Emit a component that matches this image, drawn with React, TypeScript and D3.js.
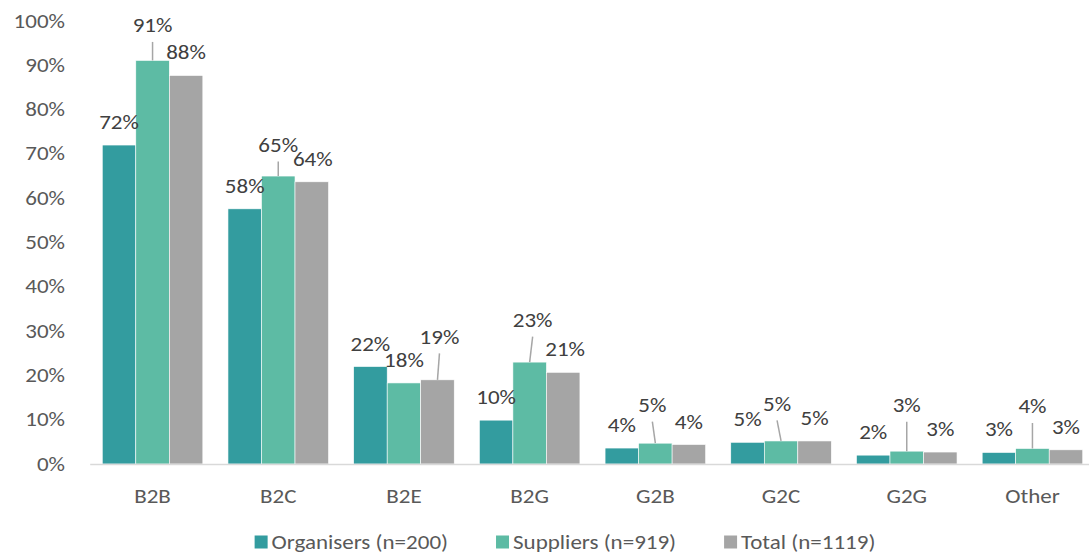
import { useEffect, useRef } from 'react';
import { axisBottom, axisLeft, scaleBand, scaleLinear, select } from 'd3';

const categories = ['B2B', 'B2C', 'B2E', 'B2G', 'G2B', 'G2C', 'G2G', 'Other'];
const seriesNames = ['Organisers (n=200)', 'Suppliers (n=919)', 'Total (n=1119)'];
const organisers = [0.72, 0.576, 0.22, 0.099, 0.036, 0.049, 0.02, 0.026];
const suppliers = [0.911, 0.65, 0.183, 0.23, 0.047, 0.052, 0.029, 0.035];
const totals = [0.877, 0.637, 0.19, 0.207, 0.044, 0.052, 0.027, 0.032];
const yTicks = [0, 0.1, 0.2, 0.3, 0.4, 0.5, 0.6, 0.7, 0.8, 0.9, 1];

const colors = ['#339c9f', '#5dbba4', '#a5a5a5'];

// label nudges [dx, dy] per series, per category (moved labels get a leader line)
const labelNudges: [number, number][][] = [
  [[0, 0], [0, 0], [0, 0], [0, 0], [0, 0], [0, 0], [0, 0], [0, 0]],
  [[0, -12], [0, -8], [0, 0], [3, -19], [-3, -15], [-4, -14], [0, -23], [0, -19]],
  [[0, 0], [1, 0], [2, -20], [2, 0], [0, 0], [0, 0], [0, 0], [0, 0]],
];

const FONT = 'Carlito, Lato, "Open Sans", sans-serif';
const FONT_SIZE = 20;
const STRETCH = 1.15; // reference glyphs are wider than Lato's

export default function App() {
  const svgRef = useRef<SVGSVGElement | null>(null);
  const width = 1089;
  const height = 555;

  useEffect(() => {
    const svgEl = svgRef.current;
    if (!svgEl) return;
    const svg = select(svgEl);
    svg.selectAll('*').remove();

    const series = [organisers, suppliers, totals];
    const left = 89.7;
    const step = 125.7;

    const x = scaleBand<string>()
      .domain(categories)
      .range([left, left + step * categories.length])
      .paddingInner(0.2)
      .paddingOuter(0.1);
    const xInner = scaleBand<number>().domain([0, 1, 2]).range([0, x.bandwidth()]);
    const y = scaleLinear().domain([0, 1]).range([464, 21]);

    // y axis (labels only)
    const yAxis = svg
      .append('g')
      .attr('transform', 'translate(65,0)')
      .call(axisLeft(y).tickValues(yTicks).tickFormat((d) => `${Math.round(+d * 100)}%`).tickSize(0).tickPadding(0));
    yAxis.select('.domain').remove();
    yAxis
      .selectAll('text')
      .attr('font-family', FONT)
      .attr('font-size', FONT_SIZE)
      .attr('fill', '#595959')
      .attr('dy', '0.3em')
      .attr('transform', `scale(${STRETCH},1)`);

    // bars
    series.forEach((vals, si) => {
      svg
        .append('g')
        .selectAll('rect')
        .data(vals)
        .join('rect')
        .attr('x', (_, i) => (x(categories[i]) ?? 0) + (xInner(si) ?? 0))
        .attr('y', (d) => y(d))
        .attr('width', xInner.bandwidth())
        .attr('height', (d) => y(0) - y(d))
        .attr('fill', colors[si])
        .attr('stroke', '#ffffff')
        .attr('stroke-width', 0.6);
    });

    // x axis
    const xAxis = svg
      .append('g')
      .attr('transform', `translate(0,${y(0)})`)
      .call(axisBottom(x).tickSize(0));
    xAxis.select('.domain').attr('stroke', '#d9d9d9').attr('stroke-width', 1.5);
    xAxis
      .selectAll('text')
      .attr('font-family', FONT)
      .attr('font-size', FONT_SIZE)
      .attr('fill', '#595959')
      .attr('y', 32)
      .attr('dy', '0.35em')
      .attr('transform', `scale(${STRETCH},1)`);

    // data labels
    series.forEach((vals, si) => {
      vals.forEach((v, i) => {
        const cx = (x(categories[i]) ?? 0) + (xInner(si) ?? 0) + xInner.bandwidth() / 2;
        const top = y(v);
        const [dx, dy] = labelNudges[si][i];
        const lx = cx + dx;
        const ly = top - 23 + dy;
        if (dy < -5) {
          svg
            .append('line')
            .attr('x1', lx)
            .attr('y1', ly + 16.5)
            .attr('x2', cx)
            .attr('y2', top)
            .attr('stroke', '#a6a6a6')
            .attr('stroke-width', 1.5);
        }
        svg
          .append('text')
          .attr('transform', `translate(${lx},${ly}) scale(${STRETCH},1)`)
          .attr('dy', '0.35em')
          .attr('text-anchor', 'middle')
          .attr('font-family', FONT)
          .attr('font-size', FONT_SIZE)
          .attr('fill', '#404040')
          .text(`${Math.round(v * 100)}%`);
      });
    });

    // legend
    const legend = svg.append('g');
    const box = 13;
    const gap = 48;
    let cursor = 0;
    seriesNames.forEach((name, si) => {
      const g = legend.append('g').attr('transform', `translate(${cursor},0)`);
      g.append('rect').attr('x', 0).attr('y', -box / 2).attr('width', box).attr('height', box).attr('fill', colors[si]);
      const t = g
        .append('text')
        .attr('transform', `translate(${box + 4},0) scale(${STRETCH},1)`)
        .attr('dy', '0.35em')
        .attr('font-family', FONT)
        .attr('font-size', FONT_SIZE)
        .attr('fill', '#595959')
        .text(name);
      const w = (t.node() as SVGTextElement).getComputedTextLength() * STRETCH;
      cursor += box + 4 + w + gap;
    });
    const total = cursor - gap;
    legend.attr('transform', `translate(${565 - total / 2},542)`);
  }, []);

  return (
    <svg
      ref={svgRef}
      width={width}
      height={height}
      style={{ position: 'absolute', left: 0, top: 0, background: '#ffffff' }}
    />
  );
}
